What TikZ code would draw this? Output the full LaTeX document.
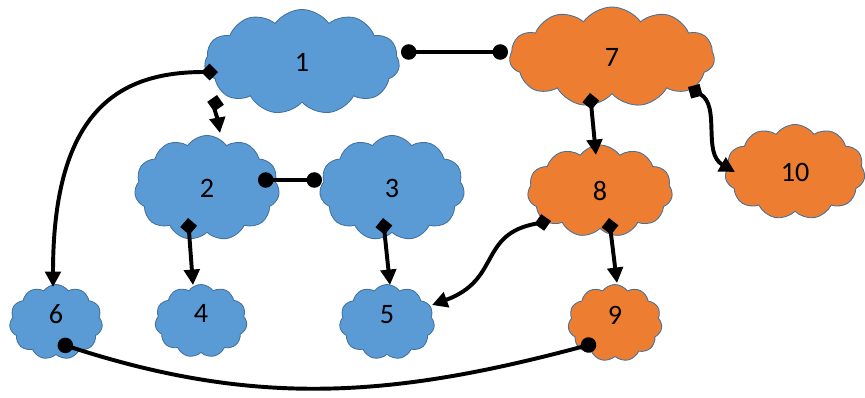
\documentclass[tikz,border=0pt]{standalone}
\usepackage{fontspec}
\setmainfont{Carlito}
\usetikzlibrary{shapes.symbols,arrows.meta}
\definecolor{cblue}{HTML}{5B9BD5}
\definecolor{corange}{HTML}{ED7D31}
\definecolor{cedge}{HTML}{41719C}
\begin{document}
\begin{tikzpicture}[x=0.025cm, y=0.025cm, line width=2.8pt,
    main/.style = {draw=cedge, line width=0.6pt, cloud, cloud puffs=11, cloud puff arc=110, cloud ignores aspect, inner sep=0pt, font=\fontsize{20}{22}\selectfont},
    bluecloud/.style = {main, fill=cblue},
    orangecloud/.style = {main, fill=corange},
    small/.style = {text depth=0.4cm},
    dlink/.style = {{Diamond[length=12pt,width=12pt]}-{Triangle[length=11pt,width=11pt]}},
    clink/.style = {{Circle[length=11pt]}-{Circle[length=11pt]}}]
    \useasboundingbox (0,0) rectangle (865,-397);
    \node[bluecloud, minimum width=4.875cm, minimum height=2.625cm] (1) at (302,-62) {1};
    \node[orangecloud, minimum width=5.125cm, minimum height=2.5cm] (7) at (612,-57) {7};
    \node[bluecloud, minimum width=3.625cm, minimum height=2.625cm] (2) at (207,-188) {2};
    \node[bluecloud, minimum width=3.625cm, minimum height=2.625cm] (3) at (392,-188) {3};
    \node[orangecloud, minimum width=3.625cm, minimum height=2.3cm] (8) at (600,-191) {8};
    \node[orangecloud, minimum width=3.5cm, minimum height=2.375cm] (10) at (795,-172) {10};
    \node[bluecloud, small, minimum width=2.325cm, minimum height=1.875cm] (6) at (56,-322) {6};
    \node[bluecloud, small, minimum width=2.3cm, minimum height=1.825cm] (4) at (201,-321) {4};
    \node[bluecloud, small, minimum width=2.375cm, minimum height=1.875cm] (5) at (387,-322) {5};
    \node[orangecloud, small, minimum width=2.35cm, minimum height=1.925cm] (9) at (615,-323) {9};
    %dots
    \draw[clink] ([shift={(99,10)}]1.center) -- ([shift={(-104,5)}]7.center);
    \draw[clink] ([shift={(51,8)}]2.center) -- ([shift={(-70,8)}]3.center);
    \draw[clink] ([shift={(2,-21)}]6.center) to[out=-18, in=195] ([shift={(-19,-20)}]9.center);
    %arrows
    \draw[dlink] ([shift={(-84,-10)}]1.center) to[out=180, in=90, out looseness=0.9, in looseness=1.7] ([shift={(-3,35)}]6.center);
    \draw[dlink] ([shift={(-85,-33)}]1.center) to[out=-100, in=100] ([shift={(13,55)}]2.center);
    \draw[dlink] ([shift={(-19,-30)}]2.center) -- ([shift={(-8,36)}]4.center);
    \draw[dlink] ([shift={(-9,-30)}]3.center) -- ([shift={(3,37)}]5.center);
    \draw[dlink] ([shift={(-22,-36)}]7.center) -- ([shift={(-4,36)}]8.center);
    \draw[dlink] ([shift={(76,-30)}]7.center) to[out=-30, in=150] ([shift={(-60,0)}]10.center);
    \draw[dlink] ([shift={(-49,-30)}]8.center) to[out=190, in=20, looseness=1.3] ([shift={(45,17)}]5.center);
    \draw[dlink] ([shift={(9,-27)}]8.center) -- ([shift={(2,40)}]9.center);
\end{tikzpicture}
\end{document}
